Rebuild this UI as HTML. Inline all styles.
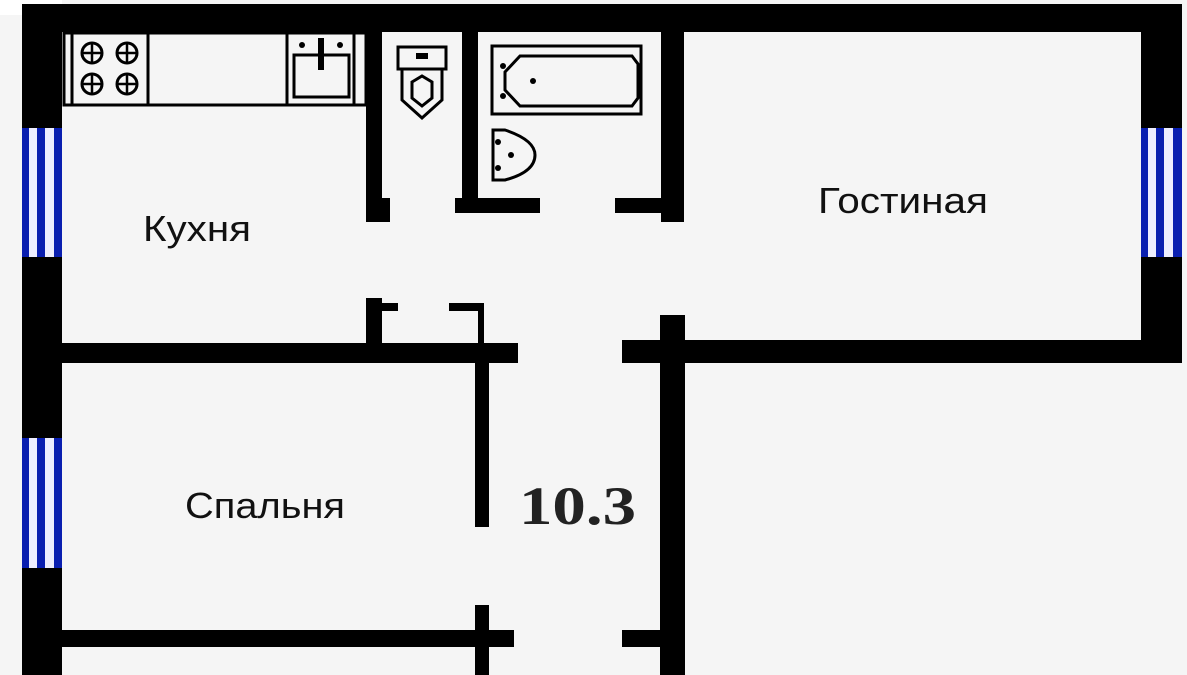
<!DOCTYPE html>
<html><head><meta charset="utf-8"><style>
html,body{margin:0;padding:0;background:#f5f5f5;}
svg{display:block;}
</style></head><body>
<svg width="1187" height="675" viewBox="0 0 1187 675" xmlns="http://www.w3.org/2000/svg">
<rect width="1187" height="675" fill="#f5f5f5"/>
<path d="M0 0 H62 V5 Q62 15 50 15 H0 Z" fill="#fff"/>
<g fill="#000">
<rect x="22" y="4" width="1160" height="28"/>
<rect x="22" y="4" width="40" height="671"/>
<rect x="1141" y="4" width="41" height="359"/>
<rect x="366" y="32" width="16" height="190"/>
<rect x="366" y="198" width="24" height="24"/>
<rect x="462" y="32" width="16" height="181"/>
<rect x="455" y="198" width="85" height="15"/>
<rect x="661" y="32" width="23" height="190"/>
<rect x="615" y="198" width="50" height="15"/>
<rect x="366" y="298" width="16" height="50"/>
<rect x="366" y="303" width="32" height="8"/>
<rect x="449" y="303" width="35" height="8"/>
<rect x="478" y="303" width="6" height="45"/>
<rect x="62" y="343" width="456" height="20"/>
<rect x="475" y="343" width="14" height="184"/>
<rect x="475" y="605" width="14" height="70"/>
<rect x="62" y="630" width="452" height="17"/>
<rect x="622" y="630" width="40" height="17"/>
<rect x="622" y="340" width="560" height="23"/>
<rect x="660" y="315" width="25" height="360"/>
</g>
<g>
<rect x="22" y="128" width="40" height="129" fill="#0a1fb0"/>
<rect x="29" y="128" width="8" height="129" fill="#eef"/>
<rect x="45" y="128" width="9" height="129" fill="#eef"/>
<rect x="22" y="438" width="40" height="130" fill="#0a1fb0"/>
<rect x="29" y="438" width="8" height="130" fill="#eef"/>
<rect x="45" y="438" width="9" height="130" fill="#eef"/>
<rect x="1141" y="128" width="41" height="129" fill="#0a1fb0"/>
<rect x="1148" y="128" width="8" height="129" fill="#eef"/>
<rect x="1164" y="128" width="9" height="129" fill="#eef"/>
</g>
<g fill="none" stroke="#000" stroke-width="3">
<rect x="64" y="33" width="302" height="72"/>
<line x1="72" y1="33" x2="72" y2="105"/>
<line x1="148" y1="33" x2="148" y2="105"/>
<line x1="287" y1="33" x2="287" y2="105"/>
<line x1="354" y1="33" x2="354" y2="105"/>
<rect x="294" y="55" width="55" height="42"/>
<circle cx="92" cy="53" r="10"/><circle cx="127" cy="53" r="10"/>
<circle cx="92" cy="84" r="10"/><circle cx="127" cy="84" r="10"/>
<path d="M82 53h20M92 43v20M117 53h20M127 43v20M82 84h20M92 74v20M117 84h20M127 74v20" stroke-width="2.5"/>
<rect x="398" y="47" width="48" height="22"/>
<path d="M402 69 V100 L422 118 L442 100 V69"/>
<path d="M412 82 L422 76 L432 82 V98 L422 106 L412 98Z"/>
<rect x="492" y="46" width="149" height="68"/>
<path d="M520 56 H632 L638 64 V98 L632 106 H520 L505 90 V72Z"/>
<path d="M493 130 H505 Q535 140 535 155 Q535 172 505 180 H493 Z"/>
</g>
<g fill="#000">
<rect x="318" y="38" width="6" height="32"/>
<circle cx="302" cy="45" r="3"/><circle cx="340" cy="45" r="3"/>
<rect x="416" y="53" width="12" height="6"/>
<circle cx="533" cy="81" r="3"/><circle cx="503" cy="66" r="3"/><circle cx="503" cy="96" r="3"/>
<circle cx="511" cy="155" r="3"/><circle cx="498" cy="142" r="3"/><circle cx="498" cy="168" r="3"/>
</g>
<g font-family="'Liberation Sans','Noto Sans CJK SC',sans-serif" font-size="36" fill="#111">
<text x="143" y="241" textLength="108" lengthAdjust="spacingAndGlyphs">Кухня</text>
<text x="818" y="213" textLength="170" lengthAdjust="spacingAndGlyphs">Гостиная</text>
<text x="185" y="518" textLength="160" lengthAdjust="spacingAndGlyphs">Спальня</text>
</g>
<text x="519" y="524" font-family="'Liberation Serif',serif" font-weight="bold" font-size="54" fill="#222" textLength="117" lengthAdjust="spacingAndGlyphs">10.3</text>
</svg>
</body></html>
